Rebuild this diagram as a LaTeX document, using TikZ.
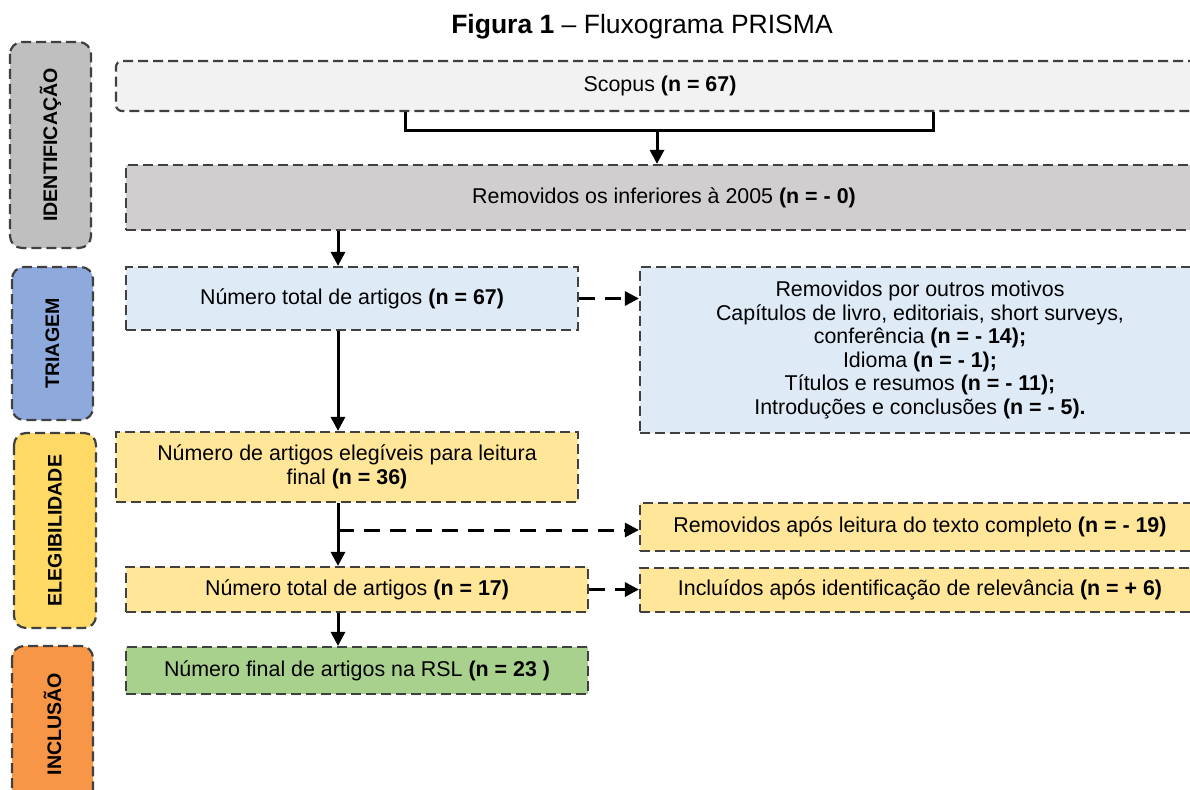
\documentclass[tikz,border=0pt]{standalone}
\usepackage{fontspec}
\setmainfont{Liberation Sans}
\usetikzlibrary{arrows.meta}
\definecolor{bordc}{HTML}{404040}
\definecolor{cscopus}{HTML}{F2F2F2}
\definecolor{crem}{HTML}{D0CECE}
\definecolor{cblue}{HTML}{DEEAF6}
\definecolor{cyel}{HTML}{FFE699}
\definecolor{cgreen}{HTML}{A9D18E}
\definecolor{pgray}{HTML}{BFBFBF}
\definecolor{pblue}{HTML}{8EA9DB}
\definecolor{pyel}{HTML}{FFD966}
\definecolor{porange}{HTML}{F79646}
\begin{document}
\begin{tikzpicture}[x=1pt,y=-1pt,
  box/.style={draw=bordc, line width=2.2pt, dash pattern=on 10pt off 5pt, inner sep=0pt,
    font=\fontsize{21.4}{23.6}\selectfont, align=center},
  phase/.style={box, rounded corners=12pt, rotate=90, font=\bfseries\fontsize{19.6}{22}\selectfont},
  arr/.style={-{Triangle[length=14pt,width=14pt]}, line width=3pt, black},
  darr/.style={arr, dash pattern=on 16pt off 10pt},
  link/.style={line width=3pt, black}]
\useasboundingbox (0,0) rectangle (1190,789);
\clip (0,0) rectangle (1190,789);

\node[font=\fontsize{26.5}{30}\selectfont] (title) at (642,27) {\textbf{Figura 1} – Fluxograma PRISMA};

% phase boxes
\node[phase, fill=pgray, minimum width=206pt, minimum height=81pt] (pid) at (50.5,145) {IDENTIFICAÇÃO};
\node[phase, fill=pblue, minimum width=153pt, minimum height=81pt] (ptr) at (52.5,343.5) {TRIAGEM};
\node[phase, fill=pyel, minimum width=195pt, minimum height=82pt] (pel) at (55,530.5) {ELEGIBILIDADE};
\node[phase, fill=porange, minimum width=156pt, minimum height=81pt] (pin) at (52.5,724) {INCLUSÃO};

% flow boxes
\node[box, rounded corners=6pt, fill=cscopus, minimum width=1088pt, minimum height=50pt] (scopus) at (660,86) {Scopus \textbf{(n = 67)}};
\node[box, fill=crem, minimum width=1076pt, minimum height=65pt] (rem) at (664,197.5) {Removidos os inferiores à 2005 \textbf{(n = - 0)}};
\node[box, fill=cblue, minimum width=452pt, minimum height=63pt] (n67) at (352,298.5) {Número total de artigos \textbf{(n = 67)}};
\node[box, fill=cblue, minimum width=560pt, minimum height=166pt] (outros) at (920,350) {Removidos por outros motivos\\Capítulos de livro, editoriais, short surveys,\\conferência \textbf{(n = - 14);}\\Idioma \textbf{(n = - 1);}\\Títulos e resumos \textbf{(n = - 11);}\\Introduções e conclusões \textbf{(n = - 5).}};
\node[box, fill=cyel, minimum width=462pt, minimum height=70pt] (eleg) at (347,467) {Número de artigos elegíveis para leitura\\final \textbf{(n = 36)}};
\node[box, fill=cyel, minimum width=560pt, minimum height=48pt] (rem19) at (920,527) {Removidos após leitura do texto completo \textbf{(n = - 19)}};
\node[box, fill=cyel, minimum width=462pt, minimum height=45pt] (n17) at (357,589.5) {Número total de artigos \textbf{(n = 17)}};
\node[box, fill=cyel, minimum width=560pt, minimum height=44pt] (incl) at (920,590) {Incluídos após identificação de relevância \textbf{(n = + 6)}};
\node[box, fill=cgreen, minimum width=462pt, minimum height=47pt] (final) at (357,670.5) {Número final de artigos na RSL \textbf{(n = 23 )}};

% connectors
\coordinate (b1) at (405,130);
\coordinate (b2) at (933,130);
\coordinate (bm) at (657,130);
\coordinate (cx) at (338,0);
\coordinate (br) at (338,530);
\draw[link] (scopus.south -| b1) -- (b1) -- (b2) -- (scopus.south -| b2);
\draw[arr] (bm) -- (rem.north -| bm);
\draw[arr] (rem.south -| cx) -- (n67.north -| cx);
\draw[arr] (n67.south -| cx) -- (eleg.north -| cx);
\draw[darr] (n67.east) -- (outros.west |- n67.east);
\draw[arr] (eleg.south -| cx) -- (n17.north -| cx);
\draw[darr] (br) -- (rem19.west |- br);
\draw[darr] (n17.east) -- (incl.west |- n17.east);
\draw[arr] (n17.south -| cx) -- (final.north -| cx);
\end{tikzpicture}
\end{document}
